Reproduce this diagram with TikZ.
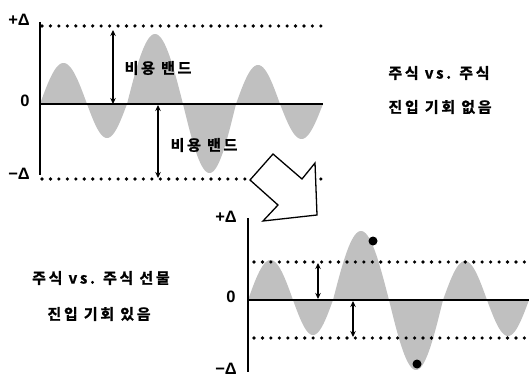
\documentclass[tikz,border=0pt]{standalone}
\usepackage{fontspec}
\usetikzlibrary{arrows.meta}
\newfontfamily\kr{Noto Sans CJK KR Bold}[LetterSpace=18, FakeBold=1.2]
\newfontfamily\lab{Liberation Sans Bold}
\definecolor{waveg}{RGB}{192,192,192}
\begin{document}
\begin{tikzpicture}[x=1pt,y=-1pt,
  kor/.style={font=\kr\fontsize{15}{17}\selectfont, inner sep=0pt},
  axlab/.style={font=\lab\fontsize{16.5}{18}\selectfont, inner sep=0pt},
  dotline/.style={line width=3.6pt, line cap=round, dash pattern=on 0pt off 8.45pt},
  axisline/.style={line width=1.8pt},
  band/.style={{Stealth[length=6pt,width=5.5pt]}-{Stealth[length=6pt,width=5.5pt]}, line width=1.3pt},
  bigarrow/.style={draw=black, fill=white, line width=1.3pt, line join=miter}]
\useasboundingbox (0,0) rectangle (529,379);

% ---------- top chart ----------
\foreach \p/\q/\h in {40/87/41, 87/127/-34, 127/183/70, 183/236/-69, 236/280/39, 280/323/-35}
  \fill[waveg] plot[domain=\p:\q, samples=40] (\x,{104-\h*sin(180*(\x-\p)/(\q-\p))}) -- cycle;
\coordinate (tpl) at (42,26);   \coordinate (tpr) at (323,26);
\coordinate (tml) at (42,179);  \coordinate (tmr) at (323,179);
\coordinate (tzl) at (40,104);  \coordinate (tzr) at (323,104);
\coordinate (tat) at (40,22);   \coordinate (tab) at (40,175);
\draw[dotline] (tpl) -- (tpr);
\draw[dotline] (tml) -- (tmr);
\draw[axisline] (tzl) -- (tzr);
\draw[axisline] (tat) -- (tab);
\coordinate (a1t) at (113,30);  \coordinate (a1b) at (113,104);
\coordinate (a2t) at (158,105); \coordinate (a2b) at (158,178);
\draw[band] (a1t) -- (a1b);
\draw[band] (a2t) -- (a2b);
\node[kor] (b1) at (158,68) {비용 밴드};
\node[kor] (b2) at (204,145) {비용 밴드};
\node[axlab] (tp) at (19,20) {+Δ};
\node[axlab] (tz) at (25,101) {0};
\node[axlab] (tm) at (19,174) {−Δ};
\node[kor] (t1) at (439,73) {주식 vs. 주식};
\node[kor] (t2) at (440,107) {진입 기회 없음};

% ---------- hollow arrow ----------
\draw[bigarrow] (250,180) -- (273,154) -- (302,179) -- (315,163) -- (317,215) -- (263,221) -- (278,205) -- cycle;

% ---------- bottom chart ----------
\foreach \p/\q/\h in {248/293/40, 293/333/-35, 333/389/69, 389/443/-70, 443/487/39, 487/529/-36}
  \fill[waveg] plot[domain=\p:\q, samples=40] (\x,{300-\h*sin(180*(\x-\p)/(\q-\p))}) -- cycle;
\coordinate (bpl) at (254,262); \coordinate (bpr) at (529,262);
\coordinate (bml) at (254,338); \coordinate (bmr) at (529,338);
\coordinate (bzl) at (248,300); \coordinate (bzr) at (529,300);
\coordinate (bat) at (248,218); \coordinate (bab) at (248,372);
\draw[dotline] (bpl) -- (bpr);
\draw[dotline] (bml) -- (bmr);
\draw[axisline] (bzl) -- (bzr);
\draw[axisline] (bat) -- (bab);
\coordinate (a3t) at (318,263); \coordinate (a3b) at (318,299);
\coordinate (a4t) at (353,301); \coordinate (a4b) at (353,337);
\draw[band] (a3t) -- (a3b);
\draw[band] (a4t) -- (a4b);
\fill (373,241) circle (4.5);
\fill (417,364) circle (4.5);
\node[axlab] (bp) at (226,217) {+Δ};
\node[axlab] (bz) at (231,297) {0};
\node[axlab] (bm) at (226,369) {−Δ};
\node[kor] (t3) at (101,278) {주식 vs. 주식 선물};
\node[kor] (t4) at (99,314) {진입 기회 있음};
\end{tikzpicture}
\end{document}
